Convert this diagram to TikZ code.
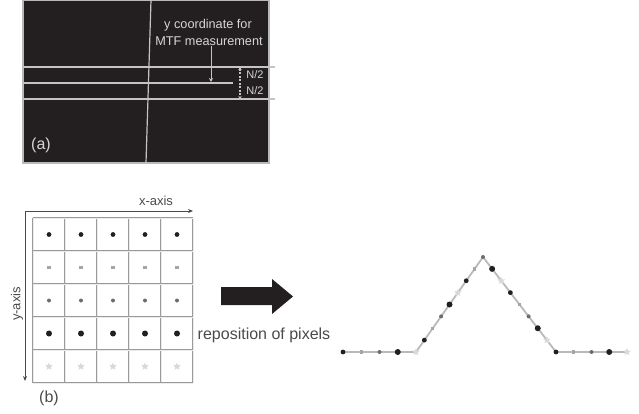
\documentclass[tikz,border=0pt]{standalone}
\usepackage{fontspec}
\setmainfont{Liberation Sans}
\usetikzlibrary{arrows.meta,shapes.geometric}
\definecolor{ink}{HTML}{231F20}
\definecolor{panelline}{HTML}{C4C4C4}
\definecolor{paneltext}{HTML}{D6D6D6}
\definecolor{gridgray}{HTML}{9A9A9A}
\definecolor{txtgray}{HTML}{4A4A4A}
\begin{document}
\begin{tikzpicture}[x=1pt,y=-1pt,
  fs/.style={font=\fontsize{#1}{#1}\selectfont, inner sep=0pt},
  ptxt/.style={fs=#1, text=paneltext},
  btxt/.style={fs=#1, text=txtgray},
  pline/.style={draw=panelline, line width=1.2pt},
  gridline/.style={draw=gridgray, line width=0.7pt, double=gray!15, double distance=0.7pt},
  axis/.style={draw=txtgray, line width=0.8pt},
  profile/.style={draw=gray!55, line width=1.8pt},
  mk/.style={inner sep=0pt, outer sep=0pt},
  m1/.style={mk, circle, fill=ink, minimum size=4.8pt},
  m2/.style={mk, rectangle, fill=gray!70, minimum size=3.4pt},
  m3/.style={mk, circle, fill=gray!85!black, minimum size=4pt},
  m4/.style={mk, circle, fill=ink, minimum size=6pt},
  m5/.style={mk, star, star points=5, star point ratio=2.2, fill=gray!30, minimum size=8pt},
]
\useasboundingbox (0,0) rectangle (639,414);

% ---------- panel (a): dark frame with measurement lines ----------
\fill[ink] (23,0) rectangle (269,163);
\draw[draw=gray!55, line width=1.5pt] (23,0.5) rectangle (269,163);
\draw[pline] (151,0) -- (146,163);
\draw[pline] (23,67) -- (275,67);
\draw[pline] (23,83) -- (233,83);
\draw[pline] (23,99) -- (275,99);

\node[ptxt=12.7] (ycoord) at (208,25) {y coordinate for};
\node[ptxt=12.7] (mtf) at (209,41) {MTF measurement};
\coordinate (mtfpt) at (211,82);
\draw[pline, line width=0.9pt, -{Stealth[length=4pt,width=4pt]}] (mtf.south -| mtfpt) -- (mtfpt);

\coordinate (ntop) at (240,67);
\coordinate (nbot) at (240,99);
\draw[pline, line width=1.4pt, dash pattern=on 2pt off 1.5pt,
      {Stealth[length=3pt,width=3.5pt]}-{Stealth[length=3pt,width=3.5pt]}] (ntop) -- (nbot);
\node[ptxt=11] (nhalf1) at (255,75) {N/2};
\node[ptxt=11] (nhalf2) at (255,91) {N/2};

\node[ptxt=16] (lbla) at (41,145) {(a)};

% ---------- panel (b): 5x5 pixel grid ----------
\foreach \c in {0,...,5} \draw[gridline] ({33+32*\c},218) -- ({33+32*\c},383);
\foreach \r in {0,...,5} \draw[gridline] (33,{218+33*\r}) -- (193,{218+33*\r});
\foreach \r in {1,...,5}
  \foreach \c in {1,...,5}
    \node[m\r] (g\r-\c) at ({49+32*(\c-1)},{234.5+33*(\r-1)}) {};

\coordinate (org) at (25,211);
\coordinate (xend) at (193,211);
\coordinate (yend) at (25,381);
\draw[axis, {Stealth[length=5pt,width=4pt]}-{Stealth[length=5pt,width=4pt]}] (xend) -- (org) -- (yend);
\node[btxt=13] (xlbl) at (156,201) {x-axis};
\node[btxt=13, rotate=90] (ylbl) at (17,304) {y-axis};
\node[btxt=16] (lblb) at (49,398) {(b)};

% ---------- repositioning arrow ----------
\fill[ink] (221,287) -- (272,287) -- (272,279) -- (293,296.5) -- (272,314) -- (272,305) -- (221,305) -- cycle;
\node[btxt=16] (repos) at (264,335) {reposition of pixels};

% ---------- repositioned profile ----------
\foreach \i in {0,...,4}   \coordinate (c\i) at ({343+\i*18.25},352);
\foreach \i in {5,...,12}  \coordinate (c\i) at ({416+(\i-4)*8.375},{352-(\i-4)*11.875});
\foreach \i in {13,...,20} \coordinate (c\i) at ({483+(\i-12)*9.125},{257+(\i-12)*11.875});
\foreach \i in {21,...,24} \coordinate (c\i) at ({556+(\i-20)*17.75},352);
\draw[profile] (c0) -- (c4) -- (c12) -- (c20) -- (c24);
\foreach \i in {0,...,24} {
  \pgfmathtruncatemacro\k{mod(\i,5)+1}
  \node[m\k] (p\i) at (c\i) {};
}
\end{tikzpicture}
\end{document}
